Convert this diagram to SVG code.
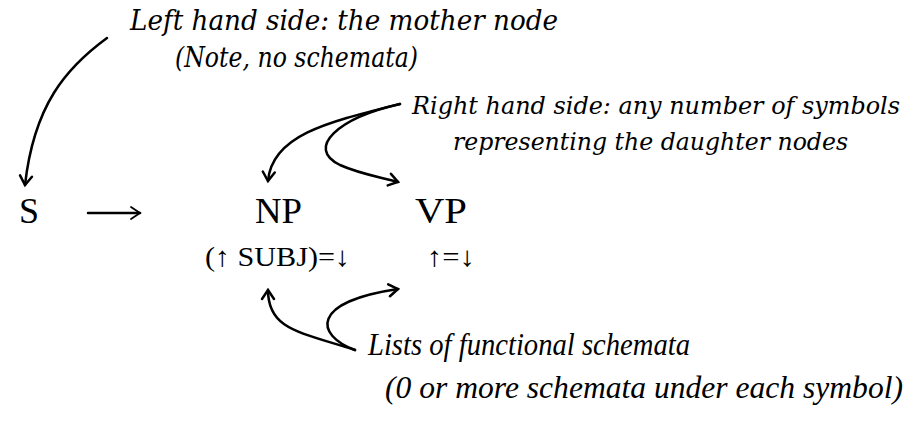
<svg xmlns="http://www.w3.org/2000/svg" width="916" height="439" viewBox="0 0 916 439">
<style>
.note{font-family:"DejaVu Serif","Liberation Serif",serif;font-style:italic;font-size:27px;fill:#000}
.rnote{font-family:"DejaVu Serif","Liberation Serif",serif;font-style:italic;font-size:24px;fill:#000}
.note2{font-family:"Liberation Serif","DejaVu Serif",serif;font-style:italic;font-size:31px;fill:#000}
.sym{font-family:"Liberation Serif","DejaVu Serif",serif;font-size:36px;fill:#000}
.sch{font-family:"Liberation Serif","DejaVu Serif",serif;font-size:28px;fill:#000}
.con{fill:none;stroke:#000;stroke-width:2.5;stroke-linecap:round}
</style>
<defs>
<marker id="ah" markerUnits="userSpaceOnUse" markerWidth="16" markerHeight="16" refX="11" refY="7" orient="auto" viewBox="0 0 16 14">
<path d="M2,1 L11,7 L2,13" fill="none" stroke="#000" stroke-width="2.5" stroke-linecap="round" stroke-linejoin="miter"/>
</marker>
<marker id="ah2" markerUnits="userSpaceOnUse" markerWidth="16" markerHeight="16" refX="11" refY="7" orient="auto" viewBox="0 0 16 14">
<path d="M2,1 L11,7 L2,13" fill="none" stroke="#000" stroke-width="1.8" stroke-linecap="round"/>
</marker>
</defs>
<rect width="916" height="439" fill="#fff"/>
<g id="lhs-note">
<text class="note" x="130" y="30" textLength="428" lengthAdjust="spacingAndGlyphs">Left hand side:  the mother node</text>
<text class="note" x="175" y="67" textLength="243" lengthAdjust="spacingAndGlyphs">(Note, no schemata)</text>
</g>
<g id="rhs-note">
<text class="rnote" x="412" y="114" textLength="488" lengthAdjust="spacingAndGlyphs">Right hand side:  any number of symbols</text>
<text class="rnote" x="453" y="150" textLength="395" lengthAdjust="spacingAndGlyphs">representing the daughter nodes</text>
</g>
<g id="schemata-note">
<text class="note2" x="368" y="355" textLength="322" lengthAdjust="spacingAndGlyphs">Lists of functional schemata</text>
<text class="note2" x="385" y="398" textLength="518" lengthAdjust="spacingAndGlyphs">(0 or more schemata under each symbol)</text>
</g>
<g id="S"><text class="sym" x="19" y="223">S</text></g>
<g id="rule-arrow"><path class="con" d="M88,213 H140" stroke-width="2" marker-end="url(#ah2)"/></g>
<g id="NP"><text class="sym" x="255" y="223" textLength="47" lengthAdjust="spacingAndGlyphs">NP</text>
<text class="sch" x="205" y="266" textLength="145" lengthAdjust="spacingAndGlyphs">(↑ SUBJ)=↓</text></g>
<g id="VP"><text class="sym" x="415" y="223" textLength="52" lengthAdjust="spacingAndGlyphs">VP</text>
<text class="sch" x="427" y="266" textLength="48" lengthAdjust="spacingAndGlyphs">↑=↓</text></g>
<g id="connectors">
<path class="con" d="M107,38 C66,68 34,105 25,185" marker-end="url(#ah)"/>
<path class="con" d="M400,104 C328,122 272,135 268,181" marker-end="url(#ah)"/>
<path class="con" d="M400,104 C338,118 305,148 340,165 C360,174 380,177 398,182" marker-end="url(#ah)"/>
<path class="con" d="M355,350 C300,332 268,330 268,290" marker-end="url(#ah)"/>
<path class="con" d="M355,350 C315,335 310,302 398,289" marker-end="url(#ah)"/>
</g>
</svg>
